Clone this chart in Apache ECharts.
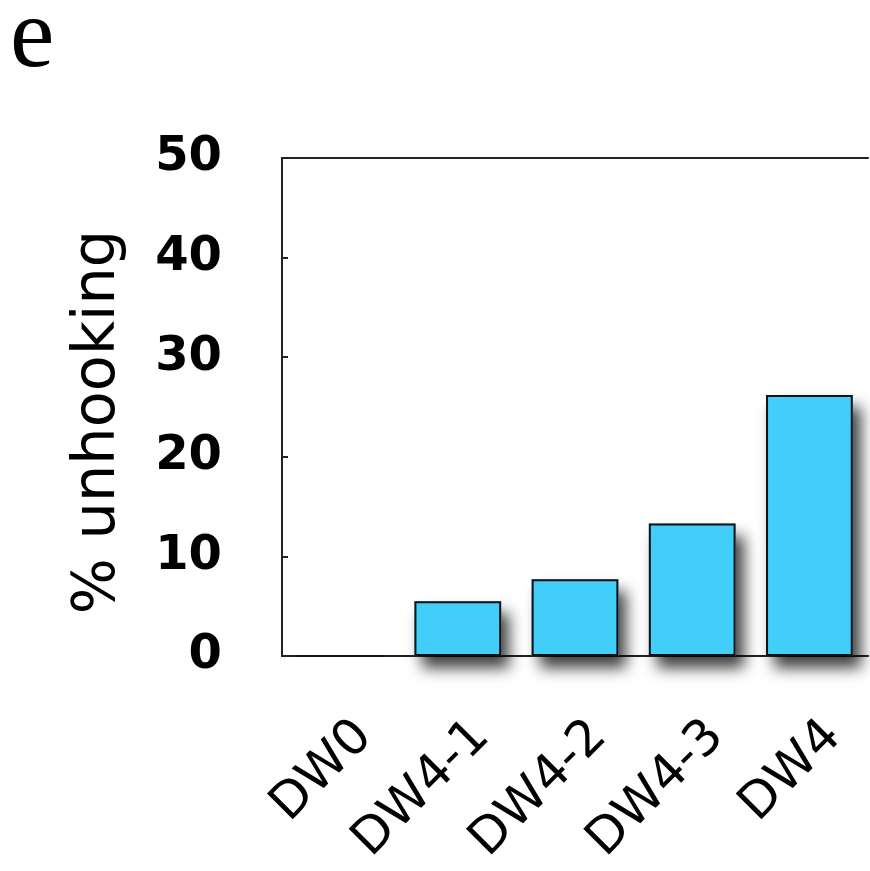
<!DOCTYPE html>
<html>
<head>
<meta charset="utf-8">
<script src="https://cdn.jsdelivr.net/npm/echarts@6/dist/echarts.min.js"></script>
<style>
	html, body { margin: 0; padding: 0; background: #fff; }
	#chart { width: 870px; height: 871px; }
</style>
</head>
<body>
<div id="chart"></div>
<script>
var categories = ['DW0', 'DW4-1', 'DW4-2', 'DW4-3', 'DW4'];
var unhooking = [0, 5.5, 7.7, 13.3, 26.2];
var yTicks = [0, 10, 20, 30, 40, 50];

var myChart = echarts.init(document.getElementById('chart'));

// shadow layer: zero-height bars cast no shadow
var shadowData = [];
for (var i = 0; i < unhooking.length; i++) {
	shadowData.push(unhooking[i] > 0 ? unhooking[i] : '-');
}

myChart.setOption({
	animation: false,
	grid: { left: 282, right: 2, top: 158, bottom: 215 },
	graphic: [{
		type: 'text',
		left: 10,
		top: -10,
		style: { text: 'e', font: '100px "Liberation Serif"', fill: '#000' }
	}],
	xAxis: [
		{
			type: 'category',
			data: categories,
			axisLine: { lineStyle: { color: '#222', width: 2 } },
			axisTick: { show: false },
			axisLabel: {
				rotate: 45,
				margin: 97,
				padding: [0, -34, 0, 0],
				color: '#000',
				fontFamily: 'DejaVu Sans',
				fontSize: 50
			}
		},
		{
			type: 'category',
			position: 'top',
			data: categories,
			axisLine: { show: true, lineStyle: { color: '#222', width: 2 } },
			axisTick: { show: false },
			axisLabel: { show: false }
		}
	],
	yAxis: {
		type: 'value',
		min: yTicks[0],
		max: yTicks[yTicks.length - 1],
		interval: 10,
		name: '% unhooking',
		nameLocation: 'middle',
		nameGap: 154,
		nameTextStyle: { color: '#000', fontFamily: 'DejaVu Sans', fontSize: 59, padding: [0, 30, 0, 0] },
		axisLine: { show: true, lineStyle: { color: '#222', width: 2 } },
		axisTick: { show: true, inside: true, length: 6, lineStyle: { color: '#222', width: 2 } },
		splitLine: { show: false },
		axisLabel: {
			margin: 60,
			color: '#000',
			fontFamily: 'DejaVu Sans',
			fontWeight: 'bold',
			fontSize: 48
		}
	},
	series: [
		{
			type: 'bar',
			data: shadowData,
			barCategoryGap: '26%',
			itemStyle: {
				color: '#41CFFA',
				shadowColor: 'rgba(0,0,0,0.75)',
				shadowBlur: 14,
				shadowOffsetX: 8,
				shadowOffsetY: 12
			}
		},
		{
			type: 'bar',
			data: unhooking,
			barGap: '-100%',
			barCategoryGap: '26%',
			itemStyle: {
				color: '#41CFFA',
				borderColor: '#111',
				borderWidth: 2
			}
		}
	]
});
</script>
</body>
</html>
